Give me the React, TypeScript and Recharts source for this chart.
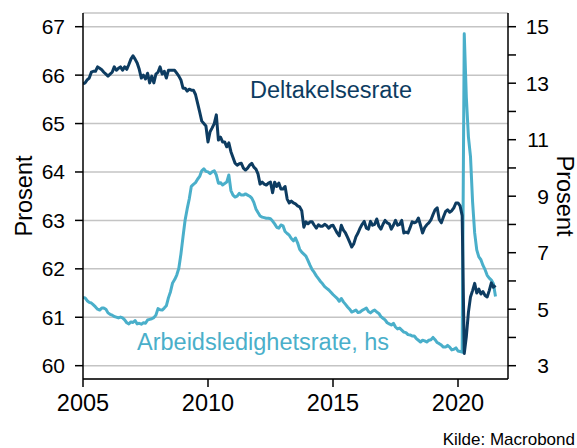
import React from 'react';
import { LineChart, Line, XAxis, YAxis, CartesianGrid } from 'recharts';

const START_YEAR = 2005;

// Deltakelsesrate (venstre akse), monthly from Jan 2005
const participationRate: number[] = [
  65.82, 65.84, 65.90, 65.94, 66.06, 66.08, 66.08, 66.17, 66.14, 66.11,
  66.06, 66.02, 65.98, 66.02, 66.06, 66.17, 66.10, 66.14, 66.17, 66.10,
  66.17, 66.12, 66.22, 66.33, 66.40, 66.33, 66.25, 66.12, 65.94, 66.00,
  65.92, 66.04, 65.84, 65.98, 65.84, 66.02, 66.06, 66.17, 66.02, 66.08,
  65.94, 66.10, 66.10, 66.10, 66.10, 66.04, 65.98, 65.90,
  65.73, 65.73, 65.67, 65.71, 65.69, 65.69, 65.60, 65.42, 65.24, 65.05, 65.00, 64.95,
  64.62, 64.83, 64.91, 65.00, 65.18, 64.66, 64.72, 64.62, 64.62, 64.52,
  64.60, 64.42, 64.30, 64.18, 64.14, 64.17, 64.18, 64.08, 64.04, 64.08,
  64.14, 64.18, 64.10, 64.06, 63.96, 63.75, 63.79, 63.75, 63.73, 63.77,
  63.79, 63.57, 63.79, 63.70, 63.77, 63.65, 63.65, 63.70, 63.44, 63.36,
  63.40, 63.36, 63.34, 63.30, 63.28, 63.20, 62.86, 62.97, 62.93, 62.97,
  62.97, 62.90, 62.84, 62.91, 62.88, 62.88, 62.92, 62.89, 62.84, 62.89,
  62.90, 62.82, 62.74, 62.68, 62.90, 62.80, 62.74, 62.65, 62.55, 62.45,
  62.52, 62.66, 62.74, 62.84, 62.92, 62.98, 62.84, 62.82, 62.98, 62.90,
  62.92, 63.03, 62.88, 62.82, 62.92, 63.00, 62.95, 62.93, 62.82, 62.90,
  63.00, 62.90, 62.92, 63.00, 62.74, 62.76, 62.74, 62.85, 62.97, 62.95,
  62.97, 63.05, 62.90, 62.74, 62.85, 62.91, 62.95, 63.01, 63.12, 63.22,
  63.26, 63.02, 62.95, 63.07, 63.18, 63.22, 63.17, 63.20, 63.26, 63.36,
  63.36, 63.30, 63.10, 60.25, 60.60, 61.10, 61.42, 61.55, 61.70, 61.50,
  61.58, 61.48, 61.53, 61.45, 61.42, 61.55, 61.71, 61.62, 61.66,
];

// Arbeidsledighetsrate (høyre akse), monthly from Jan 2005
const unemploymentRate: number[] = [
  5.42, 5.40, 5.30, 5.24, 5.22, 5.15, 5.08, 5.00, 4.97, 5.04,
  5.04, 5.00, 4.87, 4.82, 4.79, 4.74, 4.72, 4.69, 4.72, 4.69,
  4.62, 4.52, 4.48, 4.55, 4.53, 4.60, 4.48, 4.50, 4.47, 4.52,
  4.50, 4.62, 4.64, 4.66, 4.70, 4.79, 5.02, 4.98, 4.97, 5.04,
  5.12, 5.40, 5.62, 5.93, 6.05, 6.21, 6.45, 6.95, 7.56, 8.15,
  8.55, 8.90, 9.35, 9.42, 9.48, 9.60, 9.70, 9.90, 9.97, 9.88,
  9.86, 9.80, 9.86, 9.90, 9.75, 9.46, 9.48, 9.40, 9.45, 9.50,
  9.75, 9.20, 9.04, 8.97, 9.00, 9.10, 9.04, 9.04, 9.08, 9.04,
  9.00, 8.93, 8.78, 8.55, 8.42, 8.30, 8.26, 8.24, 8.22, 8.22,
  8.20, 8.12, 8.02, 7.90, 7.87, 7.98, 7.95, 7.75, 7.68, 7.62,
  7.50, 7.42, 7.52, 7.35, 7.12, 7.02, 6.95, 6.88, 6.72, 6.55,
  6.40, 6.30, 6.18, 6.08, 5.98, 5.90, 5.80, 5.74, 5.68, 5.60,
  5.52, 5.45, 5.38, 5.28, 5.38, 5.26, 5.17, 5.08, 5.00, 4.90,
  4.93, 4.97, 4.88, 4.90, 4.96, 5.00, 5.04, 4.92, 4.87, 4.93,
  4.97, 4.90, 4.85, 4.74, 4.68, 4.62, 4.52, 4.48, 4.44, 4.50,
  4.37, 4.30, 4.33, 4.26, 4.19, 4.17, 4.10, 4.09, 4.05, 4.05,
  3.96, 3.90, 3.84, 3.90, 3.88, 3.84, 3.90, 3.92, 4.00, 3.92,
  3.82, 3.78, 3.73, 3.66, 3.66, 3.72, 3.66, 3.56, 3.58, 3.63,
  3.52, 3.50, 3.48, 14.75, 12.50, 11.10, 10.40, 8.80, 7.70, 7.10,
  6.85, 6.75, 6.55, 6.40, 6.20, 6.10, 6.03, 5.90, 5.45,
];

const xTicks = [2005, 2010, 2015, 2020];
const leftTicks = [60, 61, 62, 63, 64, 65, 66, 67];
const rightTicks = [3, 4, 5, 6, 7, 8, 9, 10, 11, 12, 13, 14, 15];
const xDomain = [2005, 2022];
const leftDomain = [59.725, 67.283];
const rightDomain = [2.529, 15.485];

const NAVY = '#0d3c61';
const LIGHT = '#4aafca';
const FONT = '"Liberation Sans", Arial, sans-serif';

const data = participationRate.map((p, i) => ({
  t: START_YEAR + i / 12,
  p,
  u: unemploymentRate[i],
}));

const RightTick = (props: any) => {
  const { x, y, payload } = props;
  const v = payload.value as number;
  if (v % 2 === 0) return null;
  return (
    <text x={x + 24} y={y} dy="0.355em" textAnchor="end" fill="#000" fontSize={21} fontFamily={FONT}>
      {String(v)}
    </text>
  );
};

export default function App() {
  return (
    <div style={{ position: 'absolute', left: 0, top: 0, width: 577, height: 448, background: '#fff' }}>
      <LineChart width={577} height={448} data={data} margin={{ top: 13, right: 0, bottom: 0, left: 0 }}>
        <CartesianGrid yAxisId="left" xAxisId="bottom" vertical={false} stroke="#c4c4c4" strokeWidth={1.5} />
        <XAxis
          xAxisId="bottom"
          dataKey="t"
          type="number"
          domain={xDomain}
          ticks={xTicks}
          allowDataOverflow
          height={69}
          tickSize={8}
          tickMargin={7}
          stroke="#000"
          strokeWidth={1.5}
          tick={{ fill: '#000', fontSize: 23.5, fontFamily: FONT }}
        />
        <XAxis
          xAxisId="top"
          dataKey="t"
          type="number"
          orientation="top"
          domain={xDomain}
          allowDataOverflow
          height={0}
          tick={false}
          tickLine={false}
          stroke="#000"
          strokeWidth={1.5}
        />
        <YAxis
          yAxisId="left"
          orientation="left"
          width={83}
          domain={leftDomain}
          ticks={leftTicks}
          allowDataOverflow
          tickSize={8}
          tickMargin={10}
          stroke="#000"
          strokeWidth={1.5}
          tick={{ fill: '#000', fontSize: 21, fontFamily: FONT }}
        />
        <YAxis
          yAxisId="right"
          orientation="right"
          width={69}
          domain={rightDomain}
          ticks={rightTicks}
          allowDataOverflow
          tickSize={8}
          tickMargin={9}
          stroke="#000"
          strokeWidth={1.5}
          tick={<RightTick />}
        />
        <Line
          xAxisId="bottom"
          yAxisId="right"
          type="linear"
          dataKey="u"
          stroke={LIGHT}
          strokeWidth={3}
          dot={false}
          strokeLinejoin="round"
          isAnimationActive={false}
        />
        <Line
          xAxisId="bottom"
          yAxisId="left"
          type="linear"
          dataKey="p"
          stroke={NAVY}
          strokeWidth={3}
          dot={false}
          strokeLinejoin="round"
          isAnimationActive={false}
        />
      </LineChart>
      <svg
        width={577}
        height={448}
        style={{ position: 'absolute', left: 0, top: 0, pointerEvents: 'none' }}
        fontFamily={FONT}
      >
        <text x={250} y={98} fontSize={23.5} fill={NAVY}>Deltakelsesrate</text>
        <text x={137} y={350} fontSize={23.5} fill={LIGHT}>Arbeidsledighetsrate, hs</text>
        <text x={24} y={196} fontSize={23.5} fill="#000" textAnchor="middle" dominantBaseline="central" transform="rotate(-90 24 196)">Prosent</text>
        <text x={565} y={196} fontSize={23.5} fill="#000" textAnchor="middle" dominantBaseline="central" transform="rotate(90 565 196)">Prosent</text>
        <text x={575} y={445} fontSize={17} fill="#000" textAnchor="end">Kilde: Macrobond</text>
      </svg>
    </div>
  );
}
